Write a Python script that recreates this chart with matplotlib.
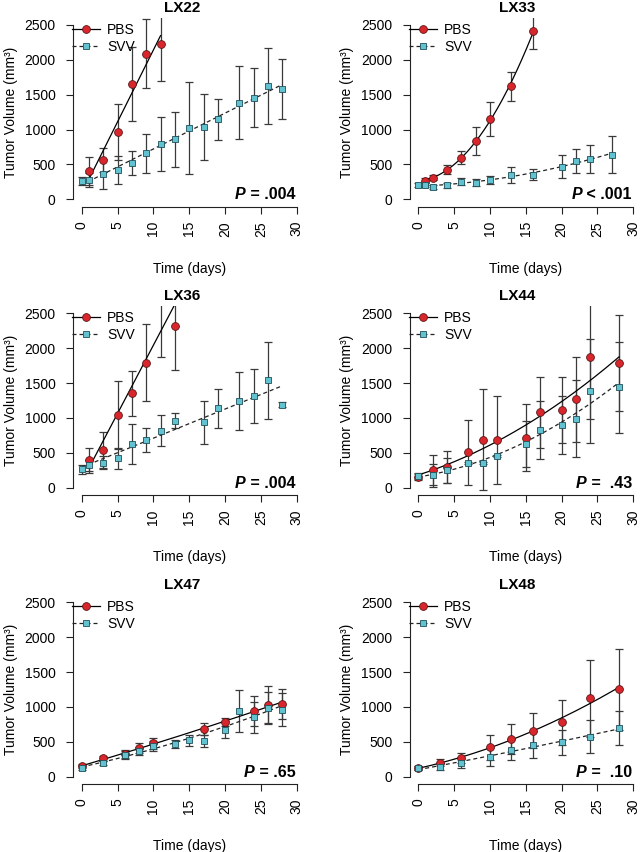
import matplotlib
matplotlib.use("Agg")
import matplotlib.pyplot as plt
import numpy as np
from matplotlib.lines import Line2D

plt.rcParams['font.family'] = ['Liberation Sans', 'DejaVu Sans']

# ---------------- data ----------------
panel_names = ["LX22", "LX33", "LX36", "LX44", "LX47", "LX48"]
p_labels = ["= .004", "< .001", "= .004", "=  .43", "= .65", "=  .10"]

lx22_pbs_days = [1, 3, 5, 7, 9, 11]
lx22_pbs = [400, 560, 970, 1650, 2090, 2230]
lx22_pbs_err = [200, 170, 400, 530, 500, 540]
lx22_svv_days = [0, 1, 3, 5, 7, 9, 11, 13, 15, 17, 19, 22, 24, 26, 28]
lx22_svv = [260, 275, 360, 425, 520, 660, 795, 860, 1020, 1035, 1145, 1385, 1460, 1620, 1580]
lx22_svv_err = [60, 100, 215, 200, 175, 280, 390, 395, 660, 470, 295, 525, 420, 545, 430]

lx33_pbs_days = [1, 2, 4, 6, 8, 10, 13, 16]
lx33_pbs = [268, 311, 426, 599, 838, 1149, 1619, 2418]
lx33_pbs_err = [40, 40, 60, 90, 196, 247, 208, 263]
lx33_svv_days = [0, 1, 2, 4, 6, 8, 10, 13, 16, 20, 22, 24, 27]
lx33_svv = [201, 201, 177, 201, 254, 235, 273, 350, 350, 469, 551, 580, 642]
lx33_svv_err = [30, 30, 30, 40, 50, 50, 60, 110, 80, 163, 170, 205, 261]

lx36_pbs_days = [1, 3, 5, 7, 9, 11, 13]
lx36_pbs = [390, 540, 1040, 1350, 1790, 2750, 2320]
lx36_pbs_err = [180, 260, 490, 320, 550, 880, 630]
lx36_svv_days = [0, 1, 3, 5, 7, 9, 11, 13, 17, 19, 22, 24, 26, 28]
lx36_svv = [260, 320, 360, 420, 630, 680, 815, 960, 935, 1135, 1245, 1315, 1540, 1190]
lx36_svv_err = [60, 80, 100, 150, 285, 175, 220, 110, 310, 273, 412, 390, 555, 40]

lx44_pbs_days = [0, 2, 4, 7, 9, 11, 15, 17, 20, 22, 24, 28]
lx44_pbs = [155, 249, 296, 507, 690, 680, 718, 1078, 1111, 1264, 1868, 1782]
lx44_pbs_err = [40, 215, 230, 467, 718, 632, 479, 503, 475, 616, 890, 688]
lx44_svv_days = [0, 2, 4, 7, 9, 11, 15, 17, 20, 22, 24, 28]
lx44_svv = [165, 177, 249, 354, 354, 454, 632, 823, 895, 991, 1384, 1437]
lx44_svv_err = [40, 168, 183, 20, 20, 20, 330, 414, 417, 556, 743, 652]

lx47_pbs_days = [0, 3, 6, 8, 10, 17, 20, 24, 26, 28]
lx47_pbs = [150, 260, 320, 410, 480, 683, 779, 947, 1034, 1043]
lx47_pbs_err = [30, 40, 60, 70, 80, 90, 60, 216, 260, 217]
lx47_svv_days = [0, 3, 6, 8, 10, 13, 15, 17, 20, 22, 24, 26, 28]
lx47_svv = [130, 192, 308, 370, 442, 466, 524, 514, 673, 947, 851, 981, 962]
lx47_svv_err = [30, 30, 60, 60, 70, 60, 80, 90, 120, 300, 226, 226, 235]

lx48_pbs_days = [0, 3, 6, 10, 13, 16, 20, 24, 28]
lx48_pbs = [120, 200, 265, 420, 540, 660, 780, 1125, 1255]
lx48_pbs_err = [30, 50, 70, 180, 217, 250, 322, 553, 582]
lx48_svv_days = [0, 3, 6, 10, 13, 16, 20, 24, 28]
lx48_svv = [120, 145, 190, 285, 385, 460, 490, 575, 695]
lx48_svv_err = [30, 50, 70, 130, 150, 200, 182, 236, 240]

# polynomial degree of fitted trend line (PBS, SVV)
fit_degree = {"LX22": (1, 1), "LX33": (2, 2), "LX36": (1, 1),
              "LX44": (2, 2), "LX47": (2, 2), "LX48": (2, 2)}

panels = [
    (lx22_pbs_days, lx22_pbs, lx22_pbs_err, lx22_svv_days, lx22_svv, lx22_svv_err),
    (lx33_pbs_days, lx33_pbs, lx33_pbs_err, lx33_svv_days, lx33_svv, lx33_svv_err),
    (lx36_pbs_days, lx36_pbs, lx36_pbs_err, lx36_svv_days, lx36_svv, lx36_svv_err),
    (lx44_pbs_days, lx44_pbs, lx44_pbs_err, lx44_svv_days, lx44_svv, lx44_svv_err),
    (lx47_pbs_days, lx47_pbs, lx47_pbs_err, lx47_svv_days, lx47_svv, lx47_svv_err),
    (lx48_pbs_days, lx48_pbs, lx48_pbs_err, lx48_svv_days, lx48_svv, lx48_svv_err),
]

# ---------------- style ----------------
RED = "#d9262c"
RED_EDGE = "#5a1414"
CYAN = "#62c2cf"
CYAN_EDGE = "#1f4f58"
AXC = "#222222"
ERRC = "#3a3a3a"
DASH = (0, (3.2, 2.4))

W, H = 640, 852
fig = plt.figure(figsize=(6.4, 8.52), dpi=100)

lefts = [73.1, 409.7]
tops = [18, 306.3, 595.3]
aw, ah = 232.2, 189
title_x = [182, 516.7]

for i, name in enumerate(panel_names):
    r, c = divmod(i, 2)
    pd_, pv, pe, sd, sv, se = panels[i]
    ax = fig.add_axes([lefts[c] / W, 1 - (tops[r] + ah) / H, aw / W, ah / H])
    ax.set_xlim(-1.2, 31.2)
    ax.set_ylim(-110, 2600)
    for s in ("top", "right"):
        ax.spines[s].set_visible(False)
    ax.spines["left"].set_bounds(0, 2500)
    ax.spines["bottom"].set_bounds(0, 30)
    for s in ("left", "bottom"):
        ax.spines[s].set_linewidth(0.8)
        ax.spines[s].set_color(AXC)
    ax.set_xticks(range(0, 31, 5))
    ax.set_yticks(range(0, 2501, 500))
    ax.tick_params(axis="x", length=5, width=0.8, pad=5, labelsize=10,
                   labelrotation=90, color=AXC)
    ax.tick_params(axis="y", length=5, width=0.8, pad=7.5, labelsize=10, color=AXC)

    dp, ds = fit_degree[name]
    # fitted trend lines
    xx = np.linspace(min(pd_), max(pd_), 200)
    ax.plot(xx, np.polyval(np.polyfit(pd_, pv, dp), xx), color="black", lw=0.9, zorder=2.5)
    xx = np.linspace(min(sd), max(sd), 200)
    ax.plot(xx, np.polyval(np.polyfit(sd, sv, ds), xx), color="#222222", lw=0.9,
            ls=DASH, zorder=2.5)

    # error bars
    ax.errorbar(pd_, pv, yerr=pe, fmt="none", ecolor=ERRC, elinewidth=0.9,
                capsize=3, capthick=0.9, zorder=2)
    ax.errorbar(sd, sv, yerr=se, fmt="none", ecolor=ERRC, elinewidth=0.9,
                capsize=3, capthick=0.9, zorder=2)

    # markers
    ax.plot(pd_, pv, ls="none", marker="o", ms=5.6, mfc=RED, mec=RED_EDGE, mew=0.6, zorder=3)
    ax.plot(sd, sv, ls="none", marker="s", ms=4.9, mfc=CYAN, mec=CYAN_EDGE, mew=0.6, zorder=3.1)

    # legend
    handles = [
        Line2D([], [], color="black", lw=0.9, marker="o", ms=5.6, mfc=RED,
               mec=RED_EDGE, mew=0.6, label="PBS"),
        Line2D([], [], color="#222222", lw=0.9, ls=DASH, marker="s", ms=4.9,
               mfc=CYAN, mec=CYAN_EDGE, mew=0.6, label="SVV"),
    ]
    ax.legend(handles=handles, loc="upper left", bbox_to_anchor=(-0.005, 0.975),
              frameon=False, fontsize=10, handlelength=2.05, handletextpad=0.5,
              labelspacing=0.22, borderpad=0, borderaxespad=0)

    # labels
    ax.set_xlabel("Time (days)", fontsize=10, labelpad=18)
    ax.set_ylabel("Tumor Volume (mm³)", fontsize=10, labelpad=5)
    fig.text(title_x[c] / W, 1 - (tops[r] - 10.5) / H, name, ha="center",
             va="center", fontsize=11, fontweight="bold")

    # P value
    t = ax.text(29.8, 0, " " + p_labels[i], ha="right", va="baseline",
                fontsize=11.5, fontweight="bold")
    ax.annotate("P", xy=(0, 0), xycoords=t, ha="right", va="bottom",
                fontsize=11.5, fontweight="bold", fontstyle="italic")

fig.savefig("out.png", dpi=100)
